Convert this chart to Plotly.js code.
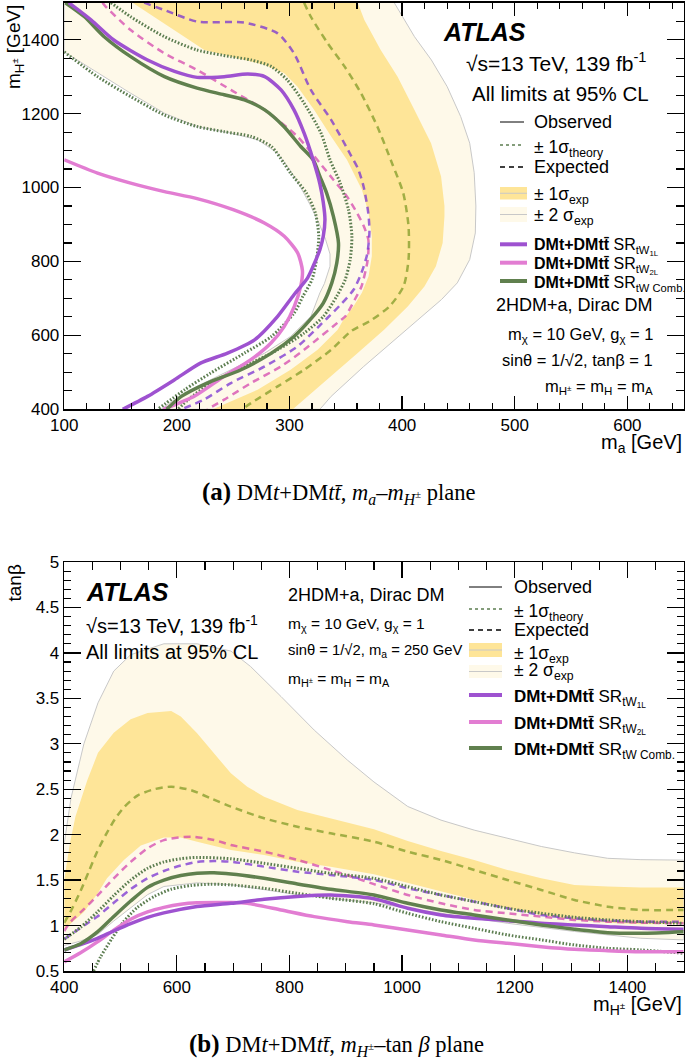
<!DOCTYPE html>
<html><head><meta charset="utf-8">
<script src="https://cdn.plot.ly/plotly-3.0.1.min.js"></script>
<style>html,body{margin:0;padding:0;background:#fff;}#chart{width:685px;height:1062px;}</style>
</head><body><div id="chart"></div>
<script>
// ---------------- (a) m_a - m_H± plane ----------------
const topXRange = [100, 650];
const topYRange = [400, 1500];
const topOuter2X = [393,411,426,440,452,460,464,465.5,465,460,449,435,414,393,366,337,327];
const topOuter2Y = [1500,1408,1345,1273,1192,1120,1040,950,877,805,742,697,642,588,516,435,400];
const topInner2X = [100,130,159,189,218,248,272,289.5,301,310,318,326,332,336,336,331,327,319,301,278,248,218,198,186];
const topInner2Y = [1367,1309,1255,1201,1165,1147,1129,1093,1045,1000,955,905,860,820,787,740,715,651,597,552,507,462,426,400];
const topOuter1X = [360.6,366.5,381,396,411,425.7,434.6,437.6,437.6,436,430,419.8,405,384,360.6,337,313,303];
const topOuter1Y = [1500,1453,1372,1300,1210,1120,1030,950,922,850,787,732,678,615,552,489,426,400];
const topInner1X = [160.7,171,188.8,206.6,224.4,248,277.7,295.4,307,322,337,351,364.3,370.2,373.1,373.1,370.2,364.3,356.9,348,342.8,325,301,271.7,232];
const topInner1Y = [1500,1480,1444,1408,1372,1354,1332,1309,1273,1210,1138,1075,994,931,868,814,760,715,679,643,615,561,507,453,400];
const topExpCombX = [313,319,334,349,363.5,378,391,401,405.7,405.7,401.3,389,372,355,337,313,289.5,266,258];
const topExpCombY = [1500,1462,1390,1327,1255,1165,1066,985,895,805,733,679,640,612,561,507,462,417,400];
const topExp1LX = [171,189,218,260,289.5,304,319,337,354,361,366,370,371,369,364,357,346,333,307,278,248,224,204];
const topExp1LY = [1500,1480,1449,1446,1417,1363,1264,1183,1090,1050,1000,930,880,820,770,724,685,645,570,516,471,426,400];
const topExp2LX = [134,137,159,189,218,248,278,307,327,339,351,360,366,370,370,369,364,358,349.5,345.8,313,292.5,265.8,242,227];
const topExp2LY = [1500,1489,1426,1363,1318,1264,1210,1138,1066,1021,976,931,895,859,823,796,733,697,651,642,561,516,471,426,400];
const topThUpX = [141.5,159,189,218,248,266,284,298,313,328,336,345,352.4,355.4,353.9,349.5,342,330.2,313,289.5,260,230,210,201];
const topThUpY = [1500,1462,1408,1372,1354,1345,1327,1291,1228,1147,1075,1012,940,868,805,751,706,651.5,606,561,516,471,426,400];
const topThDnX = [100,129.6,159,189,218,242,266,284,295,301,315,323,326,324,320,312,304,284,260,230,207,183];
const topThDnY = [1367,1300,1246,1196,1165,1151,1138,1111,1066,1039,985,931,868,805,751,706,660,597,552,498,453,400];
const topObsCombX = [101,118,135.5,159,189,218,242,260,278,295,310,321,327,333,339,343.5,342,337.6,330,318.4,304,284,257,227,204,191];
const topObsCombY = [1500,1462,1408,1354,1300,1269,1251,1237,1210,1165,1111,1075,1030,985,922,850,796,742,687.5,642.5,597,552,507,471,435,400];
const topObs1LX = [104,124,144,174,198,218,242,263,278,292.5,304,313,321,327,330,331.5,330,327,321,316,304,289.5,269,245,221,198,174,152];
const topObs1LY = [1500,1453,1399,1345,1314,1298,1300,1307,1300,1264,1210,1147,1075,1010,960,913,868,832,787,755,710,651.5,588,552,525,480,435,400];
const topObs2LX = [100,129.6,159,189,218,250,277.7,295.4,307.3,311.5,310,304.3,295.4,283.6,265.8,242,215.5,188];
const topObs2LY = [1075,1039,1012,989,970,940,904,868,823,775,733,678.5,624.5,579.4,534.4,489.3,435.3,400];

// ---------------- (b) m_H± - tanβ plane ----------------
const botXRange = [400, 1500];
const botYRange = [0.5, 5];
const botUp2X = [400,412,435,460,488,518,577,636,696,731,785,844,903,950,1010,1069,1128,1187,1247,1306,1365,1424,1500];
const botUp2Y = [1.9,2.4,3.0,3.45,3.8,3.98,4.1,4.1,4.02,3.85,3.52,3.15,2.82,2.58,2.31,2.16,2.05,1.96,1.87,1.8,1.74,1.725,1.72];
const botLo2X = [400,429,459,488,518,548,577,636,696,755,814,873,950,1069,1187,1306,1424,1500];
const botLo2Y = [0.78,0.83,0.9,1.05,1.2,1.34,1.43,1.47,1.45,1.395,1.34,1.3,1.25,1.135,1.025,0.935,0.86,0.842];
const botUp1X = [400,410,420,441,460,488,518,548,590,607,636,666,696,725,755,814,873,950,1010,1069,1128,1187,1247,1306,1365,1424,1500];
const botUp1Y = [1.5,1.9,2.2,2.6,2.9,3.12,3.27,3.34,3.36,3.3,3.115,2.895,2.675,2.528,2.418,2.272,2.18,2.06,1.93,1.82,1.722,1.612,1.52,1.447,1.43,1.42,1.42];
const botLo1X = [400,435,459,476,506,536,577,607,636,696,755,814,873,950,1010,1069,1128,1187,1247,1306,1365,1424,1500];
const botLo1Y = [0.96,1.15,1.35,1.52,1.72,1.88,1.97,1.97,1.923,1.832,1.777,1.703,1.648,1.565,1.465,1.373,1.282,1.19,1.117,1.062,1.03,1.015,1.02];
const botExpCombX = [400,411,429,444,459,474,490,506,530,560,590,625,660,696,755,814,873,950,1010,1069,1128,1187,1247,1306,1365,1424,1500];
const botExpCombY = [1.03,1.15,1.38,1.6,1.82,2.0,2.17,2.3,2.43,2.5,2.528,2.49,2.40,2.308,2.18,2.088,2.015,1.923,1.813,1.722,1.612,1.502,1.392,1.282,1.208,1.172,1.172];
const botExp2LX = [400,411,435,459,488,518,548,577,625,666,696,755,814,873,950,1010,1069,1128,1187,1247,1306,1365,1424,1500];
const botExp2LY = [0.94,1.04,1.18,1.33,1.52,1.70,1.85,1.94,1.978,1.942,1.887,1.813,1.722,1.612,1.456,1.337,1.245,1.172,1.135,1.098,1.062,1.043,1.032,1.025];
const botExp1LX = [400,435,459,488,518,548,577,607,636,666,696,755,814,873,950,1010,1069,1128,1187,1247,1306,1365,1424,1500];
const botExp1LY = [0.85,1.0,1.1,1.25,1.40,1.52,1.60,1.66,1.70,1.71,1.703,1.648,1.593,1.557,1.502,1.41,1.337,1.263,1.19,1.117,1.08,1.054,1.043,1.043];
const botThUpX = [400,429,459,488,518,548,577,607,636,696,755,814,873,950,1010,1069,1128,1187,1247,1306,1365,1424,1500];
const botThUpY = [0.85,0.98,1.15,1.33,1.50,1.63,1.70,1.735,1.75,1.735,1.685,1.63,1.575,1.52,1.428,1.337,1.263,1.19,1.135,1.091,1.062,1.043,1.025];
const botThDnX = [452,465,485,505,530,560,590,625,660,696,755,814,873,950,1010,1069,1128,1187,1247,1306,1365,1424,1500];
const botThDnY = [0.5,0.66,0.86,1.04,1.2,1.32,1.40,1.44,1.455,1.447,1.41,1.355,1.3,1.24,1.135,1.043,0.97,0.897,0.842,0.787,0.75,0.732,0.695];
const botObsCombX = [400,429,459,488,518,548,577,607,636,666,696,755,814,873,950,1010,1069,1128,1187,1247,1306,1365,1424,1500];
const botObsCombY = [0.731,0.80,0.93,1.10,1.27,1.42,1.50,1.55,1.575,1.58,1.567,1.52,1.458,1.4,1.337,1.245,1.172,1.117,1.062,1.007,0.96,0.922,0.915,0.933];
const botObs1LX = [400,429,459,488,518,548,577,636,696,755,814,873,950,1010,1069,1128,1187,1247,1306,1365,1424,1500];
const botObs1LY = [0.73,0.79,0.86,0.94,1.02,1.09,1.14,1.21,1.245,1.29,1.32,1.335,1.295,1.19,1.117,1.08,1.054,1.025,1.007,0.988,0.97,0.96];
const botObs2LX = [400,429,459,488,518,548,577,607,636,696,725,785,844,903,950,1010,1069,1128,1187,1247,1306,1365,1424,1500];
const botObs2LY = [0.6,0.70,0.82,0.95,1.07,1.15,1.20,1.235,1.25,1.253,1.245,1.172,1.098,1.043,1.007,0.952,0.897,0.842,0.805,0.768,0.739,0.724,0.713,0.713];

// ---------------- styling ----------------
const W = 685, H = 1062;
const px = x => x / W, py = y => 1 - y / H;
const SANS = 'Liberation Sans, Arial, Helvetica, sans-serif';
const SERIF = 'Liberation Serif, Times New Roman, serif';
const C = {
  yellow: 'rgb(254,229,152)', cream: 'rgb(254,249,233)', edge: 'rgb(200,200,200)',
  purple: 'rgb(158,82,208)', pink: 'rgb(226,125,210)', green: 'rgb(96,128,78)',
  expPurple: 'rgba(120,50,210,0.75)', expPink: 'rgba(210,60,170,0.7)', expOlive: 'rgba(130,155,40,0.75)',
  theory: 'rgb(92,125,80)'
};
const DASH = '7px,5px', DOT = '1.6px,1.8px';

function line(x, y, xa, ya, color, width, dash) {
  return {type:'scatter', mode:'lines', x, y, xaxis:xa, yaxis:ya, hoverinfo:'skip',
          line:{color, width, dash: dash || 'solid', shape:'spline', smoothing:0.7}};
}
function band(x, y, xa, ya, fill, edge) {
  return {type:'scatter', mode:'lines', x, y, xaxis:xa, yaxis:ya, hoverinfo:'skip',
          fill:'toself', fillcolor:fill,
          line:{color: edge || 'rgba(0,0,0,0)', width: edge ? 1 : 0, shape:'linear'}};
}
const rev = a => a.slice().reverse();

const traces = [
  // top
  band(topOuter2X.concat(rev(topInner2X), [topXRange[0]]), topOuter2Y.concat(rev(topInner2Y), [topYRange[1]]), 'x', 'y', C.cream, C.edge),
  band(topOuter1X.concat(rev(topInner1X)), topOuter1Y.concat(rev(topInner1Y)), 'x', 'y', C.yellow, null),
  line(topExpCombX, topExpCombY, 'x', 'y', C.expOlive, 2.5, DASH),
  line(topExp2LX, topExp2LY, 'x', 'y', C.expPink, 2.5, DASH),
  line(topExp1LX, topExp1LY, 'x', 'y', C.expPurple, 2.5, DASH),
  line(topThUpX, topThUpY, 'x', 'y', C.theory, 3, DOT),
  line(topThDnX, topThDnY, 'x', 'y', C.theory, 3, DOT),
  line(topObs2LX, topObs2LY, 'x', 'y', C.pink, 3.5),
  line(topObsCombX, topObsCombY, 'x', 'y', C.green, 3.5),
  line(topObs1LX, topObs1LY, 'x', 'y', C.purple, 3.5),
  // bottom
  band(botUp2X.concat(rev(botLo2X)), botUp2Y.concat(rev(botLo2Y)), 'x2', 'y2', C.cream, C.edge),
  band(botUp1X.concat(rev(botLo1X)), botUp1Y.concat(rev(botLo1Y)), 'x2', 'y2', C.yellow, null),
  line(botExpCombX, botExpCombY, 'x2', 'y2', C.expOlive, 2.5, DASH),
  line(botExp2LX, botExp2LY, 'x2', 'y2', C.expPink, 2.5, DASH),
  line(botExp1LX, botExp1LY, 'x2', 'y2', C.expPurple, 2.5, DASH),
  line(botThUpX, botThUpY, 'x2', 'y2', C.theory, 3, DOT),
  line(botThDnX, botThDnY, 'x2', 'y2', C.theory, 3, DOT),
  line(botObs2LX, botObs2LY, 'x2', 'y2', C.pink, 3.5),
  line(botObs1LX, botObs1LY, 'x2', 'y2', C.purple, 3.5),
  line(botObsCombX, botObsCombY, 'x2', 'y2', C.green, 3.5)
];

function axis(domain, range, dtick, minorDtick, len, minorLen, anchor) {
  return {domain, range, anchor, dtick, tick0: 0, ticks:'inside', ticklen:len, tickwidth:1.3, tickcolor:'#000',
    showline:true, linewidth:1.5, linecolor:'#000', mirror:'allticks', showgrid:false, zeroline:false,
    fixedrange:true, automargin:false, tickfont:{family:SANS, size:17, color:'#000'},
    minor:{ticks:'inside', dtick:minorDtick, tick0:0, ticklen:minorLen, tickwidth:1.1, tickcolor:'#000', showgrid:false}};
}
const xDom = [px(64.2), px(683.7)];

const shapes = [];
const annotations = [];
function ann(text, x, y, opt) {
  annotations.push(Object.assign({text, x:px(x), y:py(y), xref:'paper', yref:'paper', showarrow:false,
    xanchor:'left', yanchor:'middle', font:{family:SANS, size:18, color:'#000'}}, opt || {}));
}
function legLine(x0, x1, y, color, width, dash) {
  shapes.push({type:'line', xref:'paper', yref:'paper', x0:px(x0), x1:px(x1), y0:py(y), y1:py(y), line:{color, width, dash: dash || 'solid'}});
}
function legBox(x0, x1, y0, y1, fill) {
  shapes.push({type:'rect', xref:'paper', yref:'paper', x0:px(x0), x1:px(x1), y0:py(y1), y1:py(y0), fillcolor:fill, line:{width:0}});
  legLine(x0, x1, (y0 + y1) / 2, C.edge, 1);
}
const DMT = '<b>DMt+DMtt\u0304</b> SR';
const f = s => ({family:SANS, size:s, color:'#000'});

// ---- top texts ----
ann('<b><i>ATLAS</i></b>', 441, 32, {font:f(25)});
ann('\u221As=13 TeV, 139 fb<sup>-1</sup>', 648, 62, {xanchor:'right', font:f(21)});
ann('All limits at 95% CL', 651, 93, {xanchor:'right', font:f(20.5)});
{
  const a = 500, b = 524, t = 532;
  legLine(a, b, 122, '#000', 1);
  ann('Observed', t, 122);
  legLine(a, b, 145, C.theory, 1.5, 'dot');
  ann('\u00B1 1\u03C3<sub>theory</sub>', t, 148.5, {font:f(17.5)});
  legLine(a, b, 167, '#000', 1.5, '5px,4px');
  ann('Expected', t, 167);
  legBox(a, 527, 187, 199.5, C.yellow);
  ann('\u00B1 1\u03C3<sub>exp</sub>', t, 195, {font:f(17.5)});
  legBox(a, 527, 207, 222, C.cream);
  ann('\u00B1 2 \u03C3<sub>exp</sub>', t, 216, {font:f(17.5)});
  legLine(a, 527, 244.3, C.purple, 4);
  ann(DMT + '<sub>tW<sub>1L</sub></sub>', t, 247, {font:f(16)});
  legLine(a, 527, 262.7, C.pink, 4);
  ann(DMT + '<sub>tW<sub>2L</sub></sub>', t, 265.5, {font:f(16)});
  legLine(a, 527, 281, C.green, 4);
  ann(DMT + '<sub>tW Comb.</sub>', t, 284, {font:f(16)});
}
ann('2HDM+a, Dirac DM', 655, 305, {xanchor:'right'});
ann('m<sub>\u03C7</sub> = 10 GeV, g<sub>\u03C7</sub> = 1', 655, 335, {xanchor:'right', font:f(16.5)});
ann('sin\u03B8 = 1/\u221A2, tan\u03B2 = 1', 655, 360, {xanchor:'right', font:f(16.5)});
ann('m<sub>H<sup>\u00B1</sup></sub> = m<sub>H</sub> = m<sub>A</sub>', 655, 387, {xanchor:'right', font:f(16.5)});
// axis titles top
ann('m<sub>H<sup>\u00B1</sup></sub> [GeV]', 15, 3, {xanchor:'center', yanchor:'top', textangle:-90, font:f(19)});
ann('m<sub>a</sub> [GeV]', 684, 444, {xanchor:'right', font:f(20)});
ann('<span style="font-size:25px"><b>(a)</b></span> DM<i>t</i>+DM<i>t</i><i>t\u0304</i>, <i>m<sub>a</sub></i>\u2013<i>m<sub>H<sup>\u00B1</sup></sub></i> plane', 338, 493,
    {xanchor:'center', font:{family:SERIF, size:22.5, color:'#000'}});

// ---- bottom texts ----
ann('<b><i>ATLAS</i></b>', 84, 592, {font:f(25)});
ann('\u221As=13 TeV, 139 fb<sup>-1</sup>', 84, 624, {font:f(20)});
ann('All limits at 95% CL', 84, 652, {font:f(20)});
ann('2HDM+a, Dirac DM', 286, 595);
ann('m<sub>\u03C7</sub> = 10 GeV, g<sub>\u03C7</sub> = 1', 286, 624, {font:f(15.5)});
ann('sin\u03B8 = 1/\u221A2, m<sub>a</sub> = 250 GeV', 286, 651, {font:f(14.8)});
ann('m<sub>H<sup>\u00B1</sup></sub> = m<sub>H</sub> = m<sub>A</sub>', 286, 679, {font:f(15.5)});
{
  const a = 469, b = 502, t = 512;
  legLine(a, b, 587, '#000', 1);
  ann('Observed', t, 587);
  legLine(a, b, 609, C.theory, 1.5, 'dot');
  ann('\u00B1 1\u03C3<sub>theory</sub>', t, 612, {font:f(17.5)});
  legLine(a, b, 630, '#000', 1.5, '5px,4px');
  ann('Expected', t, 630);
  legBox(a, b, 643, 657, C.yellow);
  ann('\u00B1 1\u03C3<sub>exp</sub>', t, 654, {font:f(17.5)});
  legBox(a, b, 665, 678, C.cream);
  ann('\u00B1 2 \u03C3<sub>exp</sub>', t, 671, {font:f(17.5)});
  legLine(a, b, 695, C.purple, 4);
  ann(DMT + '<sub>tW<sub>1L</sub></sub>', t, 698, {font:f(17)});
  legLine(a, b, 722, C.pink, 4);
  ann(DMT + '<sub>tW<sub>2L</sub></sub>', t, 725, {font:f(17)});
  legLine(a, b, 748, C.green, 4);
  ann(DMT + '<sub>tW Comb.</sub>', t, 751, {font:f(17)});
}
ann('tan\u03B2', 14, 563, {xanchor:'center', yanchor:'top', textangle:-90, font:f(19)});
ann('m<sub>H<sup>\u00B1</sup></sub> [GeV]', 684, 1005, {xanchor:'right', font:f(20)});
ann('<span style="font-size:25px"><b>(b)</b></span> DM<i>t</i>+DM<i>t</i><i>t\u0304</i>, <i>m<sub>H<sup>\u00B1</sup></sub></i>\u2013tan <i>\u03B2</i> plane', 336, 1045,
    {xanchor:'center', font:{family:SERIF, size:22.5, color:'#000'}});

const layout = {
  width: W, height: H, margin:{l:0, r:0, t:0, b:0}, paper_bgcolor:'#fff', plot_bgcolor:'rgba(0,0,0,0)',
  showlegend:false, font:{family:SANS, color:'#000'},
  xaxis: axis(xDom, topXRange, 100, 20, 13, 6, 'y'),
  yaxis: axis([py(409.3), py(2.7)], topYRange, 200, 50, 17, 8, 'x'),
  xaxis2: axis(xDom, botXRange, 200, 50, 16, 8, 'y2'),
  yaxis2: axis([py(971), py(562)], botYRange, 0.5, 0.1, 17, 7, 'x2'),
  shapes, annotations
};
Plotly.newPlot('chart', traces, layout, {displayModeBar:false, staticPlot:true});
</script>
</body></html>
